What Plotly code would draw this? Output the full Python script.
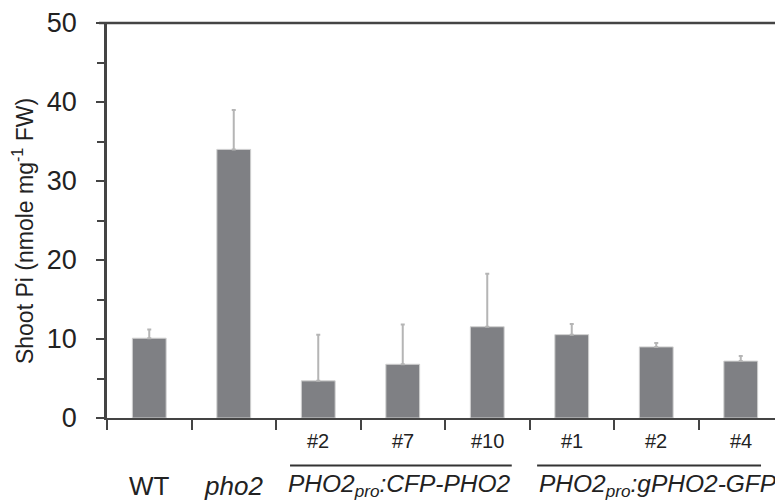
import plotly.graph_objects as go

# ---- data ----
line_labels = ["", "", "#2", "#7", "#10", "#1", "#2", "#4"]
genotype_labels = ["WT", "<i>pho2</i>"]
group_labels = ["<i>PHO2<sub>pro</sub>:CFP-PHO2</i>", "<i>PHO2<sub>pro</sub>:gPHO2-GFP</i>"]
shoot_pi = [10.1, 34.0, 4.7, 6.8, 11.55, 10.55, 9.0, 7.2]
shoot_pi_err = [1.1, 5.0, 5.85, 5.05, 6.7, 1.35, 0.5, 0.65]
y_ticks = [0, 10, 20, 30, 40, 50]

FONT = "Liberation Sans, Arial, sans-serif"
x_pos = list(range(len(shoot_pi)))

fig = go.Figure()
fig.add_trace(go.Bar(
    x=x_pos, y=shoot_pi, width=0.4,
    marker=dict(color="#7f8084", line=dict(color="#d0d0d0", width=1)),
    error_y=dict(type="data", array=shoot_pi_err, arrayminus=[0]*len(shoot_pi),
                 symmetric=False, color="#b5b5b5", thickness=2, width=2),
    showlegend=False,
))

annotations = []
# line numbers (row 1)
for i, lab in enumerate(line_labels):
    if lab:
        annotations.append(dict(x=i, y=-0.058, xref="x", yref="paper", text=lab,
                                showarrow=False, font=dict(size=20, color="#222", family=FONT),
                                xanchor="center", yanchor="middle"))
# genotypes (row 2)
for i, lab in enumerate(genotype_labels):
    annotations.append(dict(x=i, y=-0.172, xref="x", yref="paper", text=lab,
                            showarrow=False, font=dict(size=26, color="#222", family=FONT),
                            xanchor="center", yanchor="middle"))
group_centers = [3, 6]
group_shift = [-0.04, 0.02]
for c, s, lab in zip(group_centers, group_shift, group_labels):
    annotations.append(dict(x=c + s, y=-0.17, xref="x", yref="paper", text=lab,
                            showarrow=False, font=dict(size=24.5, color="#222", family=FONT),
                            xanchor="center", yanchor="middle"))
# y title
annotations.append(dict(x=-0.125, y=0.472, xref="paper", yref="paper",
                        text="Shoot Pi (nmole mg<sup>-1</sup> FW)", textangle=-90,
                        showarrow=False, font=dict(size=23, color="#222", family=FONT),
                        xanchor="center", yanchor="middle"))

shapes = [
    dict(type="line", xref="x", yref="paper", x0=1.666, x1=4.29, y0=-0.12, y1=-0.12,
         line=dict(color="#333", width=2)),
    dict(type="line", xref="x", yref="paper", x0=4.59, x1=7.24, y0=-0.12, y1=-0.12,
         line=dict(color="#333", width=2)),
    # top frame line, extending slightly left of the y axis like the reference
    dict(type="line", xref="paper", yref="paper", x0=-0.012, x1=1, y0=1, y1=1,
         line=dict(color="#444", width=2.5)),
]

# the page body adds an 8px offset; the figure is sized to fill the rest of the window
fig.update_layout(
    width=775, height=496,
    margin=dict(l=99, r=0, t=12, b=86),
    paper_bgcolor="white", plot_bgcolor="white",
    font=dict(family=FONT, color="#222"),
    annotations=annotations, shapes=shapes,
    xaxis=dict(range=[-0.5, 7.5], showline=True, linecolor="#444", linewidth=2,
               ticks="outside", ticklen=10, tickwidth=2, tickcolor="#444",
               tickvals=[i - 0.5 for i in x_pos], showticklabels=False,
               showgrid=False, zeroline=False),
    yaxis=dict(range=[0, 50], showline=True, linecolor="#444", linewidth=2.5,
               ticks="outside", ticklen=8, tickwidth=2, tickcolor="#444",
               tickvals=y_ticks, tickfont=dict(size=27, color="#222", family=FONT),
               ticklabelstandoff=14, ticklabeloverflow="allow",
               minor=dict(ticks="outside", ticklen=7, tickwidth=2, tickcolor="#444", dtick=5,
                          showgrid=False),
               showgrid=False, zeroline=False),
)

fig.write_html("out.html")
